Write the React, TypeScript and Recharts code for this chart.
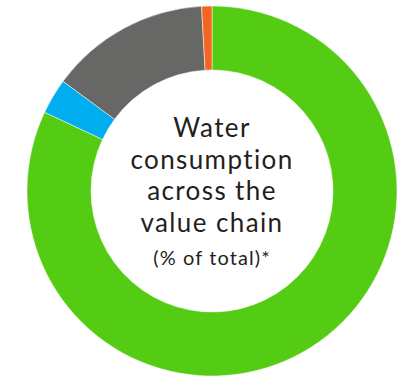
import React from 'react';
import { PieChart, Pie, Cell } from 'recharts';

const segments = ['Green', 'Blue', 'Gray', 'Orange'];
const shares = [82, 3.1, 14, 0.9];
const colors = ['#55cc14', '#00aeef', '#676766', '#f26522'];
const titleLines = ['Water', 'consumption', 'across the', 'value chain'];
const subtitle = '(% of total)*';

const data = segments.map((name, i) => ({ name, value: shares[i] }));

const App: React.FC = () => {
  const cx = 212;
  const cy = 191;
  return (
    <div style={{ position: 'absolute', left: 0, top: 0, width: 399, height: 378, background: '#fff' }}>
      <PieChart width={399} height={378} margin={{ top: 0, right: 0, bottom: 0, left: 0 }}>
        <Pie
          data={data}
          dataKey="value"
          cx={cx}
          cy={cy}
          innerRadius={121}
          outerRadius={185}
          startAngle={90}
          endAngle={-270}
          stroke="#ffffff"
          strokeWidth={0.5}
          isAnimationActive={false}
        >
          {data.map((d, i) => (
            <Cell key={d.name} fill={colors[i]} />
          ))}
        </Pie>
      </PieChart>
      <svg
        width={399}
        height={378}
        style={{ position: 'absolute', left: 0, top: 0, pointerEvents: 'none' }}
      >
        {titleLines.map((line, i) => (
          <text
            key={line}
            x={cx}
            y={137 + i * 31.7}
            textAnchor="middle"
            fontFamily="Lato, sans-serif"
            fontSize={26}
            letterSpacing={1.4}
            fill="#231f20"
          >
            {line}
          </text>
        ))}
        <text
          x={cx}
          y={265}
          textAnchor="middle"
          fontFamily="Lato, sans-serif"
          fontSize={20}
          letterSpacing={1.1}
          fill="#231f20"
        >
          {subtitle}
        </text>
      </svg>
    </div>
  );
};

export default App;
